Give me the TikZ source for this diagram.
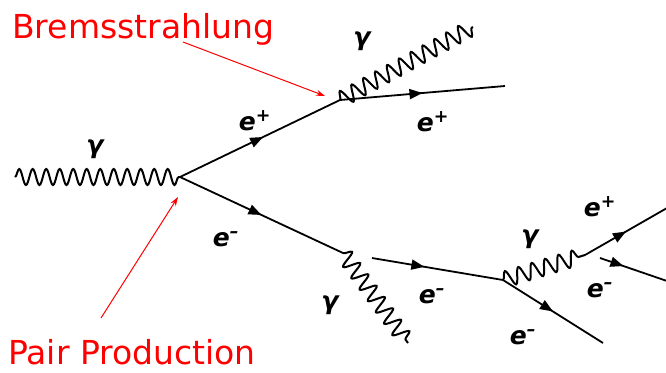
\documentclass[tikz,border=0pt]{standalone}
\usepackage{fontspec}
\setmainfont{DejaVu Sans}
\usetikzlibrary{arrows.meta,decorations.pathmorphing,decorations.markings}

\tikzset{
  fermion/.style={line width=1.8pt, postaction={decorate},
    decoration={markings, mark=at position #1 with {\arrow{Triangle[length=13pt,width=10pt]}}}},
  fermion/.default=0.55,
  photon/.style={line width=2pt, decorate,
    decoration={snake, amplitude=8pt, segment length=#1}},
  photon/.default=13.5pt,
  note/.style={red, line width=1pt, -{Stealth[length=9pt,width=6pt]}},
  notetext/.style={red, inner sep=0pt, font=\fontsize{33}{40}\selectfont},
  particle/.style={font=\fontsize{25}{28}\selectfont\bfseries\itshape}
}
\newcommand{\epos}{e\textsuperscript{+}}
\newcommand{\eneg}{e\textsuperscript{--}}

\begin{document}
\begin{tikzpicture}[x=1pt, y=-1pt]

	\useasboundingbox (0,0) rectangle (666,372);

	% vertices and free ends
	\coordinate (g0) at (15,177);
	\coordinate (v1) at (180,177);
	\coordinate (v2) at (340,100);
	\coordinate (p1) at (505,86);
	\coordinate (g1) at (473,27);
	\coordinate (v3) at (343,253);
	\coordinate (g2) at (408,343);
	\coordinate (v3b) at (372,258);
	\coordinate (v4) at (503,280);
	\coordinate (m1) at (603,343);
	\coordinate (v5) at (585,255);
	\coordinate (p2) at (667,208);
	\coordinate (v5b) at (600,258);
	\coordinate (m2) at (667,281);

	% lines
	\draw[photon] (g0) -- (v1);
	\draw[fermion=0.52] (v1) -- (v2);
	\draw[fermion=0.5] (v2) -- (p1);
	\draw[photon] (v2) -- (g1);
	\draw[fermion=0.5] (v1) -- (v3);
	\draw[photon=14pt] (v3) -- (g2);
	\draw[fermion=0.4] (v3b) -- (v4);
	\draw[fermion=0.5] (v4) -- (m1);
	\draw[photon=14pt] (v4) -- (v5);
	\draw[fermion=0.5] (v5) -- (p2);
	\draw[fermion=0.35] (v5b) -- (m2);

	% labels
	\node[particle] (l0) at (95,149) {γ};
	\node[particle] (l1) at (255,121) {\epos};
	\node[particle] (l2) at (362,41) {γ};
	\node[particle] (l3) at (433,122) {\epos};
	\node[particle] (l4) at (226,239) {\eneg};
	\node[particle] (l5) at (330,305) {γ};
	\node[particle] (l6) at (432,296) {\eneg};
	\node[particle] (l7) at (530,239) {γ};
	\node[particle] (l8) at (523,337) {\eneg};
	\node[particle] (l9) at (600,207) {\epos};
	\node[particle] (l10) at (600,290) {\eneg};

	% annotations
	\node[notetext, anchor=base west] (brems) at (12,38) {Bremsstrahlung};
	\node[notetext, anchor=base west] (pair) at (8,364) {Pair Production};
	\coordinate (bt) at (183,42);
	\coordinate (bh) at (325,96);
	\coordinate (pt) at (101,318);
	\coordinate (ph) at (178,197);
	\draw[note] (bt) -- (bh);
	\draw[note] (pt) -- (ph);

\end{tikzpicture}
\end{document}
